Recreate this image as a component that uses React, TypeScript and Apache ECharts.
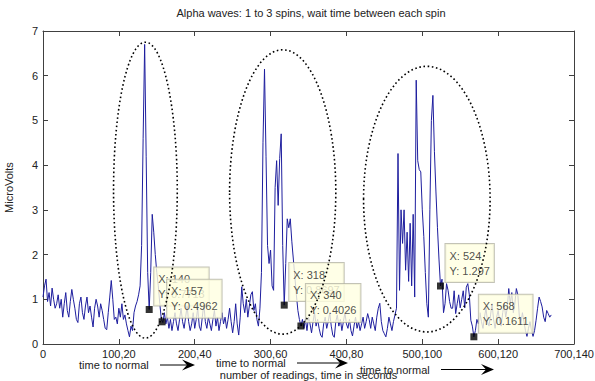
import React, { useEffect, useRef } from "react";
import * as echarts from "echarts";

// ---- data ----
const X_STEP = 2; // readings sampled every 2 indices, starting at 0
const microVolts: number[] = [
  // 0-18
  1.05, 1.3, 1.45, 0.95, 1.15, 0.85, 1.25, 1.0, 0.8, 0.9,
  // 20-38
  1.1, 0.8, 1.0, 0.6, 0.9, 1.15, 0.75, 0.6, 0.95, 1.22,
  // 40-58
  1.0, 0.8, 0.55, 0.48, 0.9, 1.05, 0.7, 0.55, 0.85, 1.05,
  // 60-78
  0.7, 0.85, 0.6, 0.38, 0.8, 1.0, 0.85, 0.6, 0.9, 0.75,
  // 80-98
  0.55, 0.35, 0.32, 0.7, 1.05, 1.42, 1.0, 0.55, 0.6, 0.45,
  // 100-118
  0.8, 0.6, 0.9, 0.55, 0.65, 0.45, 0.3, 0.16, 0.4, 0.3,
  // 120-138
  0.7, 0.85, 0.95, 1.1, 1.3, 2.2, 4.6, 6.7, 4.2, 1.6,
  // 140-158
  0.7713, 1.6, 2.9, 2.5, 2.0, 1.6, 1.3, 0.9, 0.55, 0.48,
  // 160-178
  0.7, 0.45, 0.6, 0.35, 0.55, 0.3, 0.5, 0.7, 0.45, 0.3,
  // 180-198
  0.55, 0.8, 0.5, 0.35, 0.6, 0.85, 0.5, 0.3, 0.45, 0.7,
  // 200-218
  0.35, 0.55, 0.8, 0.4, 0.3, 0.6, 0.9, 0.5, 0.35, 0.6,
  // 220-238
  0.45, 0.3, 0.55, 0.75, 0.4, 0.6, 0.3, 0.5, 0.7, 0.45,
  // 240-258
  0.6, 0.35, 0.55, 0.8, 0.5, 0.25, 0.5, 0.9, 0.45, 0.2,
  // 260-278
  0.6, 1.28, 0.9, 0.7, 1.0, 0.6, 0.85, 1.1, 1.17, 0.75,
  // 280-298
  0.9, 0.55, 0.4, 0.8, 1.6, 4.5, 6.15, 4.2, 2.2, 1.8,
  // 300-318
  2.1, 1.3, 1.2, 3.5, 4.1, 3.1, 4.15, 4.7, 2.2, 0.8697,
  // 320-338
  1.8, 2.8, 2.6, 2.8, 2.3, 1.9, 1.5, 1.1, 0.75, 0.55,
  // 340-358
  0.4026, 0.55, 0.35, 0.55, 0.3, 0.6, 0.45, 0.25, 0.5, 0.7,
  // 360-378
  0.4, 0.55, 0.35, 0.2, 0.15, 0.45, 0.6, 0.35, 0.5, 0.7,
  // 380-398
  0.4, 0.2, 0.15, 0.5, 0.65, 0.4, 0.55, 0.3, 0.5, 0.7,
  // 400-418
  0.45, 0.35, 0.55, 0.3, 0.18, 0.4, 0.6, 0.35, 0.5, 0.3,
  // 420-438
  0.45, 0.6, 0.35, 0.5, 0.68, 0.55, 0.35, 0.6, 0.45, 0.3,
  // 440-458
  0.6, 0.8, 0.91, 0.5, 0.3, 0.23, 0.16, 0.35, 0.6, 0.45,
  // 460-478
  0.3, 0.5, 0.65, 0.8, 4.26, 1.2, 3.0, 2.25, 3.0, 1.65,
  // 480-498
  2.5, 1.4, 2.7, 1.3, 2.9, 1.05, 5.9, 4.1, 3.9, 3.85,
  // 500-518
  3.0, 2.4, 1.6, 0.9, 0.6, 3.0, 5.0, 5.56, 4.3, 3.4,
  // 520-538
  2.6, 1.9, 1.297, 1.45, 0.7, 0.9, 1.35, 1.2, 0.95, 0.8,
  // 540-558
  0.8, 1.19, 0.68, 0.9, 1.1, 0.81, 1.0, 1.19, 0.81, 1.27,
  // 560-578
  1.35, 1.1, 0.53, 0.4, 0.1611, 0.3, 0.55, 0.45, 0.7, 0.5,
  // 580-598
  0.35, 0.6, 0.8, 0.5, 0.4, 0.65, 0.9, 0.55, 0.35, 0.6,
  // 600-618
  0.75, 0.5, 0.4, 0.7, 0.9, 0.6, 0.8, 1.24, 0.9, 1.15,
  // 620-638
  0.7, 0.9, 1.24, 1.1, 0.6, 0.45, 0.7, 0.5, 0.3, 0.17,
  // 640-658
  0.35, 0.5, 0.3, 0.17, 0.3, 0.53, 0.8, 1.05, 0.95, 0.83,
  // 660-670
  0.6, 0.5, 0.75, 0.68, 0.6, 0.65,
];

const xTickValues = [0, 100, 200, 300, 400, 500, 600, 700];
const xTickLabels = ["0", "100,20", "200,40", "300,60", "400,80", "500,100", "600,120", "700,140"];
const yTickLabels = ["0", "1", "2", "3", "4", "5", "6", "7"];

// data tips
const tipX = [140, 157, 318, 340, 524, 568];
const tipY = [0.7713, 0.4962, 0.8697, 0.4026, 1.297, 0.1611];

// dotted ellipses around each spin (data units)
const ellipseCX = [135, 316, 506];
const ellipseCY = [3.44, 3.4, 3.24];
const ellipseRX = [42, 70, 83.4];
const ellipseRY = [3.31, 3.18, 2.97];

const titleText = "Alpha waves: 1 to 3 spins, wait time between each spin";
const xName = "number of readings, time in seconds";
const yName = "MicroVolts";
const noteText = ["time to normal", "time to normal", "time to normal"];

// ---- layout ----
const FONT = "Liberation Sans, Arial, Helvetica, sans-serif";
const W = 595;
const H = 381;
const notePos = [
  { x: 79, y: 365, ax1: 160, ax2: 195 },
  { x: 216, y: 363, ax1: 297, ax2: 348 },
  { x: 360, y: 369.5, ax1: 441, ax2: 494 },
];

export default function App() {
  const ref = useRef<HTMLDivElement>(null);

  useEffect(() => {
    if (!ref.current) return;
    const chart = echarts.init(ref.current, undefined, { renderer: "svg" });

    const axisCommon = {
      type: "value" as const,
      splitLine: { show: false },
      axisLine: { show: true, onZero: false, lineStyle: { color: "#404040", width: 1 } },
      axisTick: { show: true, inside: true, length: 5, lineStyle: { color: "#404040" } },
    };

    const lineData = microVolts.map((v, i) => [i * X_STEP, v]);
    const tipData = tipX.map((x, i) => [x, tipY[i]]);

    chart.setOption({
      animation: false,
      backgroundColor: "#ffffff",
      title: {
        text: titleText,
        left: 306,
        textAlign: "center",
        top: 2,
        textStyle: { fontFamily: FONT, fontSize: 11, fontWeight: "normal", color: "#222" },
      },
      grid: {
        left: 43,
        top: 31,
        right: 21,
        bottom: 37,
        containLabel: false,
        outerBoundsMode: "none",
      },
      xAxis: [
        {
          ...axisCommon,
          position: "bottom",
          min: 0,
          max: 700,
          interval: 100,
          name: xName,
          nameLocation: "middle",
          nameGap: 25,
          nameTextStyle: { fontFamily: FONT, fontSize: 11, color: "#222" },
          axisLabel: {
            margin: 4,
            fontFamily: FONT,
            fontSize: 11,
            color: "#222",
            formatter: (v: number) => {
              const k = xTickValues.indexOf(v);
              return k >= 0 ? xTickLabels[k] : "";
            },
          },
        },
        {
          ...axisCommon,
          position: "top",
          min: 0,
          max: 700,
          interval: 100,
          axisLabel: { show: false },
        },
      ],
      yAxis: [
        {
          ...axisCommon,
          position: "left",
          min: 0,
          max: 7,
          interval: 1,
          name: yName,
          nameLocation: "middle",
          nameRotate: 90,
          nameGap: 29,
          nameTextStyle: { fontFamily: FONT, fontSize: 11, color: "#222" },
          axisLabel: {
            margin: 5,
            fontFamily: FONT,
            fontSize: 11,
            color: "#222",
            formatter: (v: number) => yTickLabels[v] ?? "",
          },
        },
        {
          ...axisCommon,
          position: "right",
          min: 0,
          max: 7,
          interval: 1,
          axisLabel: { show: false },
        },
      ],
      series: [
        {
          type: "line",
          data: lineData,
          xAxisIndex: 0,
          yAxisIndex: 0,
          showSymbol: false,
          symbol: "none",
          lineStyle: { color: "#1e1e9e", width: 1 },
          z: 2,
        },
        {
          type: "scatter",
          data: tipData,
          xAxisIndex: 0,
          yAxisIndex: 0,
          symbol: "rect",
          symbolSize: 7,
          itemStyle: { color: "#000" },
          z: 3,
          label: {
            show: true,
            position: [8.5, -38.5],
            align: "left",
            verticalAlign: "top",
            formatter: (p: any) =>
              "X: " + p.value[0] + "\nY: " + Number(p.value[1]).toPrecision(4),
            fontFamily: FONT,
            fontSize: 11,
            lineHeight: 15,
            color: "#222",
            backgroundColor: "#ffffe1",
            borderColor: "#b4b4a4",
            borderWidth: 1,
            padding: [4, 4, 4, 4],
          },
        },
      ],
    });

    // ellipses, converted from data units to pixels
    const px0 = chart.convertToPixel({ xAxisIndex: 0 }, 0) as number;
    const px1 = chart.convertToPixel({ xAxisIndex: 0 }, 1) as number;
    const py0 = chart.convertToPixel({ yAxisIndex: 0 }, 0) as number;
    const py1 = chart.convertToPixel({ yAxisIndex: 0 }, 1) as number;
    const sx = px1 - px0;
    const sy = py0 - py1;

    const ellipses = ellipseCX.map((cx, i) => ({
      type: "ellipse",
      z: 100,
      silent: true,
      shape: {
        cx: px0 + cx * sx,
        cy: py0 - ellipseCY[i] * sy,
        rx: ellipseRX[i] * sx,
        ry: ellipseRY[i] * sy,
      },
      style: { fill: "none", stroke: "#000", lineWidth: 1.6, lineDash: [1.6, 2.6] },
    }));

    const notes: any[] = [];
    notePos.forEach((p, i) => {
      notes.push({
        type: "text",
        z: 100,
        style: {
          text: noteText[i],
          x: p.x,
          y: p.y,
          fill: "#222",
          fontFamily: FONT,
          fontSize: 11,
          verticalAlign: "middle",
          align: "left",
        },
      });
      notes.push({
        type: "line",
        z: 100,
        shape: { x1: p.ax1, y1: p.y, x2: p.ax2 - 8, y2: p.y },
        style: { stroke: "#000", lineWidth: 1 },
      });
      notes.push({
        type: "polygon",
        z: 100,
        shape: {
          points: [
            [p.ax2, p.y],
            [p.ax2 - 13, p.y - 5.5],
            [p.ax2 - 8, p.y],
            [p.ax2 - 13, p.y + 5.5],
          ],
        },
        style: { fill: "#000" },
      });
    });

    chart.setOption({ graphic: [...ellipses, ...notes] });

    return () => chart.dispose();
  }, []);

  return (
    <div
      ref={ref}
      style={{ position: "absolute", left: 0, top: 0, width: W, height: H, background: "#fff" }}
    />
  );
}
